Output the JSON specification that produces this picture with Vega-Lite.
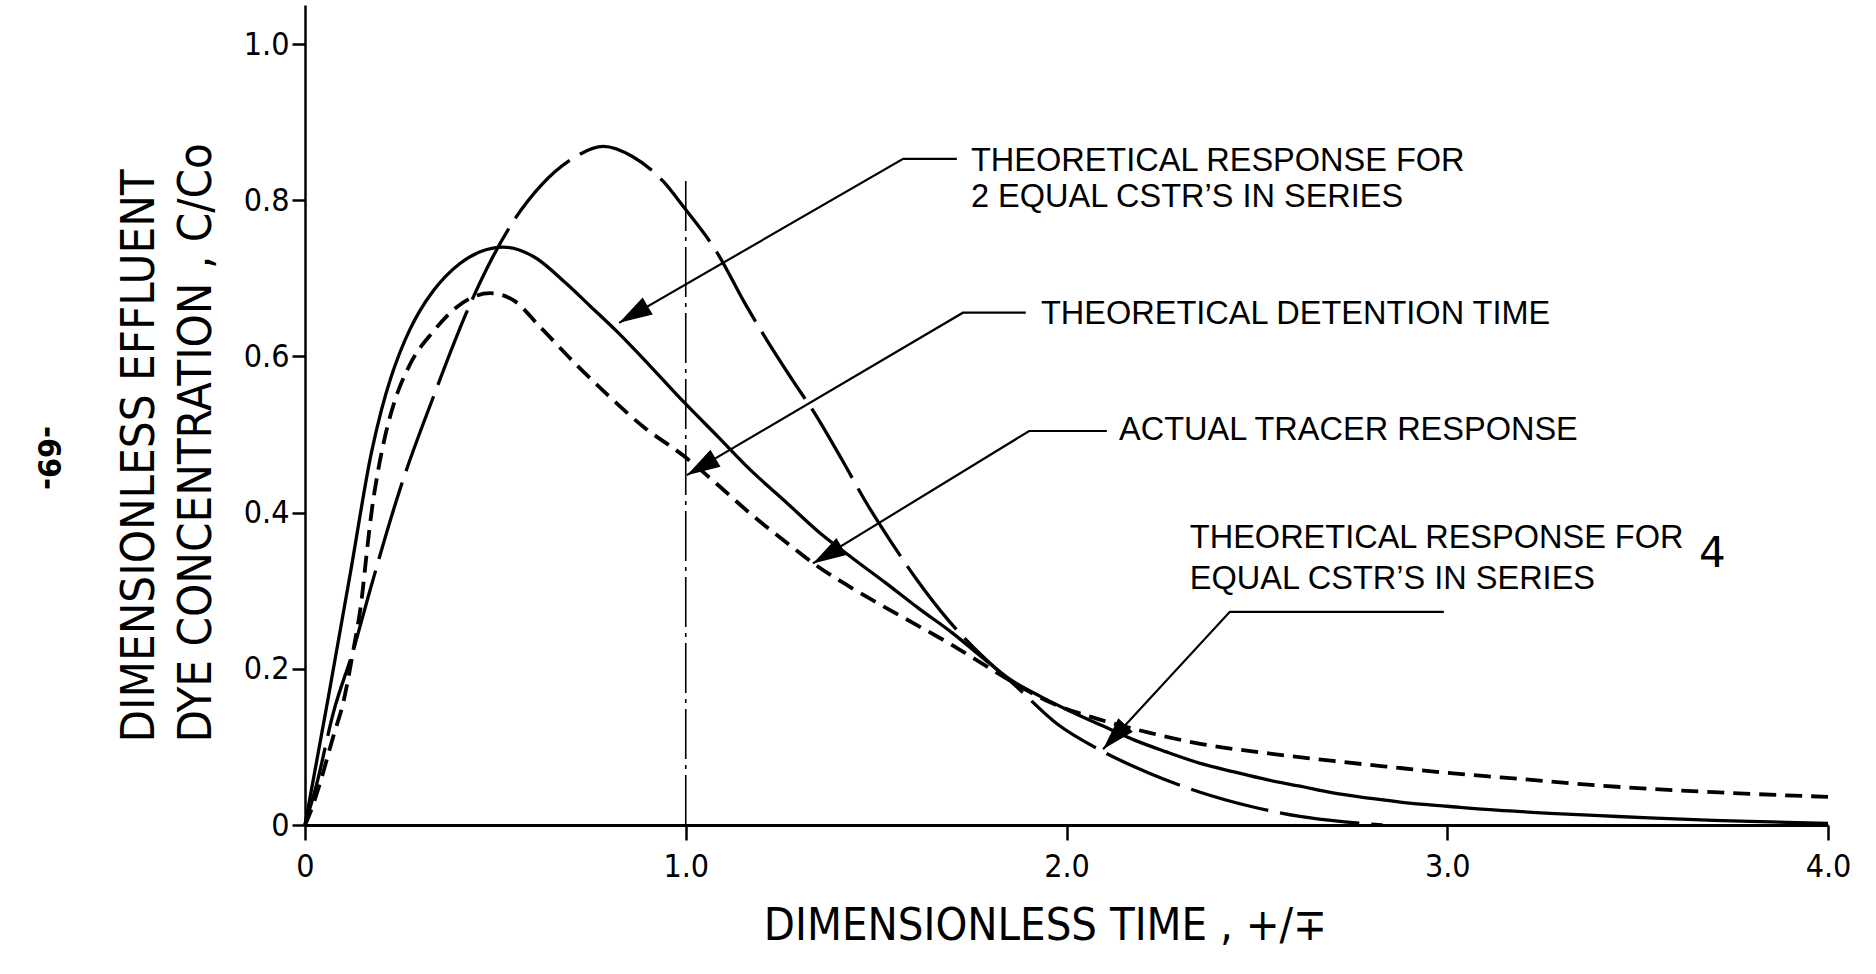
{
  "$schema": "https://vega.github.io/schema/vega-lite/v6.json",
  "width": 1523,
  "height": 820,
  "autosize": {"type": "none"},
  "padding": {"left": 305, "top": 5, "right": 48, "bottom": 149},
  "background": "white",
  "config": {
    "view": {"stroke": null},
    "font": "DejaVu Sans Condensed, DejaVu Sans, sans-serif"
  },
  "datasets": {
    "cstr2": [
      {"t":0,"c":0},{"t":0.06,"c":0.16},{"t":0.12,"c":0.325},{"t":0.175,"c":0.478},{"t":0.2,"c":0.53},
      {"t":0.225,"c":0.572},{"t":0.25,"c":0.606},{"t":0.275,"c":0.634},{"t":0.3,"c":0.657},{"t":0.337,"c":0.684},
      {"t":0.407,"c":0.719},{"t":0.46,"c":0.734},{"t":0.521,"c":0.74},{"t":0.6,"c":0.728},{"t":0.687,"c":0.693},
      {"t":0.75,"c":0.664},{"t":0.819,"c":0.632},{"t":0.906,"c":0.588},{"t":0.994,"c":0.542},{"t":1.085,"c":0.497},
      {"t":1.169,"c":0.455},{"t":1.26,"c":0.415},{"t":1.35,"c":0.375},{"t":1.44,"c":0.341},{"t":1.525,"c":0.31},
      {"t":1.61,"c":0.278},{"t":1.7,"c":0.246},{"t":1.78,"c":0.214},{"t":1.85,"c":0.187},{"t":1.93,"c":0.165},
      {"t":2.0,"c":0.148},{"t":2.09,"c":0.128},{"t":2.177,"c":0.109},{"t":2.26,"c":0.094},{"t":2.351,"c":0.079},
      {"t":2.44,"c":0.068},{"t":2.526,"c":0.058},{"t":2.61,"c":0.05},{"t":2.7,"c":0.041},{"t":2.8,"c":0.034},
      {"t":2.9,"c":0.028},{"t":3.0,"c":0.024},{"t":3.13,"c":0.019},{"t":3.27,"c":0.015},{"t":3.4,"c":0.012},
      {"t":3.53,"c":0.009},{"t":3.7,"c":0.006},{"t":3.85,"c":0.004},{"t":4.0,"c":0.002}
    ],
    "cstr4": [
      {"t":0,"c":0},{"t":0.031,"c":0.053},{"t":0.074,"c":0.143},{"t":0.127,"c":0.224},{"t":0.171,"c":0.301},
      {"t":0.2495,"c":0.43},{"t":0.337,"c":0.548},{"t":0.442,"c":0.676},{"t":0.538,"c":0.766},{"t":0.62,"c":0.819},
      {"t":0.705,"c":0.854},{"t":0.7835,"c":0.869},{"t":0.86,"c":0.856},{"t":0.941,"c":0.824},{"t":0.9935,"c":0.792},
      {"t":1.081,"c":0.734},{"t":1.16,"c":0.664},{"t":1.213,"c":0.621},{"t":1.28,"c":0.57},{"t":1.344,"c":0.523},
      {"t":1.41,"c":0.468},{"t":1.475,"c":0.412},{"t":1.54,"c":0.362},{"t":1.607,"c":0.314},{"t":1.69,"c":0.262},
      {"t":1.781,"c":0.2155},{"t":1.869,"c":0.177},{"t":1.974,"c":0.13},{"t":2.088,"c":0.096},{"t":2.219,"c":0.066},
      {"t":2.351,"c":0.042},{"t":2.482,"c":0.024},{"t":2.613,"c":0.011},{"t":2.73,"c":0.004},{"t":2.83,"c":0.0}
    ],
    "tracer": [
      {"t":0,"c":0},{"t":0.013,"c":0.015},{"t":0.039,"c":0.053},{"t":0.074,"c":0.113},{"t":0.101,"c":0.158},
      {"t":0.127,"c":0.224},{"t":0.149,"c":0.29},{"t":0.162,"c":0.348},{"t":0.176,"c":0.405},{"t":0.1925,"c":0.455},
      {"t":0.21,"c":0.497},{"t":0.235,"c":0.542},{"t":0.276,"c":0.59},{"t":0.337,"c":0.632},{"t":0.398,"c":0.663},
      {"t":0.486,"c":0.681},{"t":0.547,"c":0.672},{"t":0.617,"c":0.638},{"t":0.7135,"c":0.589},{"t":0.792,"c":0.552},
      {"t":0.8885,"c":0.51},{"t":0.9935,"c":0.473},{"t":1.081,"c":0.437},{"t":1.169,"c":0.399},{"t":1.256,"c":0.365},
      {"t":1.344,"c":0.332},{"t":1.431,"c":0.305},{"t":1.519,"c":0.28},{"t":1.607,"c":0.256},{"t":1.694,"c":0.232},
      {"t":1.781,"c":0.206},{"t":1.869,"c":0.18},{"t":1.957,"c":0.157},{"t":2.088,"c":0.135},{"t":2.219,"c":0.118},
      {"t":2.351,"c":0.104},{"t":2.526,"c":0.092},{"t":2.7,"c":0.082},{"t":2.876,"c":0.073},{"t":3.016,"c":0.066},
      {"t":3.14,"c":0.061},{"t":3.445,"c":0.049},{"t":3.7,"c":0.042},{"t":4.0,"c":0.036}
    ],
    "detention": [{"t":1.0,"c":0.0},{"t":1.0,"c":0.827}],
    "leaders": [
      {"id":"A","i":0,"t":1.712,"c":0.853},{"id":"A","i":1,"t":1.571,"c":0.853},{"id":"A","i":2,"t":0.825,"c":0.643},
      {"id":"B","i":0,"t":1.893,"c":0.656},{"id":"B","i":1,"t":1.728,"c":0.656},{"id":"B","i":2,"t":1.003,"c":0.448},
      {"id":"C","i":0,"t":2.106,"c":0.5045},{"id":"C","i":1,"t":1.902,"c":0.5045},{"id":"C","i":2,"t":1.334,"c":0.335},
      {"id":"D","i":0,"t":2.991,"c":0.273},{"id":"D","i":1,"t":2.429,"c":0.273},{"id":"D","i":2,"t":2.096,"c":0.097}
    ],
    "tips": [
      {"id":"A","t":0.825,"c":0.643},{"id":"B","t":1.003,"c":0.448},{"id":"C","t":1.334,"c":0.335},{"id":"D","t":2.096,"c":0.097}
    ],
    "labels": [
      {"t":1.749,"c":0.837,"text":"THEORETICAL  RESPONSE  FOR"},
      {"t":1.749,"c":0.791,"text":"2 EQUAL  CSTR’S  IN  SERIES"},
      {"t":1.933,"c":0.641,"text":"THEORETICAL  DETENTION  TIME"},
      {"t":2.138,"c":0.493,"text":"ACTUAL  TRACER  RESPONSE"},
      {"t":2.324,"c":0.355,"text":"THEORETICAL  RESPONSE  FOR"},
      {"t":2.324,"c":0.302,"text":"EQUAL  CSTR’S  IN  SERIES"}
    ],
    "four": [{"t":3.661,"c":0.33,"text":"4"}],
    "page": [{"t":-0.675,"c":0.47,"text":"-69-"}]
  },
  "encoding": {
    "x": {
      "field": "t", "type": "quantitative",
      "scale": {"domain": [0, 4], "nice": false, "zero": false},
      "axis": {
        "values": [0, 1, 2, 3, 4],
        "labelExpr": "datum.value == 0 ? '0' : format(datum.value, '.1f')",
        "title": "DIMENSIONLESS TIME , +/∓",
        "titleFontSize": 45, "titleFontWeight": "normal", "titleColor": "black",
        "titleX": 740, "titleY": 114, "titleBaseline": "alphabetic", "titleAlign": "center",
        "labelFontSize": 32, "labelColor": "black", "labelPadding": 11, "labelFlush": false, "labelOverlap": false,
        "tickSize": 15, "tickWidth": 2.5, "tickColor": "black",
        "domainWidth": 3, "domainColor": "black", "grid": false
      }
    },
    "y": {
      "field": "c", "type": "quantitative",
      "scale": {"domain": [0, 1.05], "nice": false},
      "axis": {
        "values": [0, 0.2, 0.4, 0.6, 0.8, 1.0],
        "labelExpr": "datum.value == 0 ? '0' : format(datum.value, '.1f')",
        "title": ["DIMENSIONLESS EFFLUENT", "DYE  CONCENTRATION , C/Co"],
        "titleFontSize": 47, "titleFontWeight": "normal", "titleColor": "black",
        "titleAngle": 270, "titleAlign": "left", "titleBaseline": "alphabetic",
        "titleX": -152, "titleY": 737, "titleLineHeight": 57,
        "labelFontSize": 32, "labelColor": "black", "labelPadding": 3, "labelFlush": false, "labelOverlap": false,
        "tickSize": 13, "tickWidth": 2.5, "tickColor": "black",
        "domainWidth": 2.5, "domainColor": "black", "grid": false
      }
    }
  },
  "layer": [
    {
      "data": {"name": "detention"},
      "mark": {"type": "line", "color": "black", "strokeWidth": 1.6, "strokeDash": [50, 6, 4, 6]}
    },
    {
      "data": {"name": "cstr2"},
      "mark": {"type": "line", "color": "black", "strokeWidth": 3.3, "interpolate": "monotone"}
    },
    {
      "data": {"name": "cstr4"},
      "mark": {"type": "line", "color": "black", "strokeWidth": 3.3, "interpolate": "monotone", "strokeDash": [80, 12]}
    },
    {
      "data": {"name": "tracer"},
      "mark": {"type": "line", "color": "black", "strokeWidth": 3.8, "interpolate": "monotone", "strokeDash": [17, 9]}
    },
    {
      "data": {"name": "leaders"},
      "mark": {"type": "line", "color": "black", "strokeWidth": 2.2},
      "encoding": {"detail": {"field": "id"}, "order": {"field": "i", "type": "quantitative"}}
    },
    {
      "data": {"name": "tips"},
      "transform": [{"filter": "datum.id != 'D'"}],
      "mark": {"type": "point", "shape": "M0,0 L-1,-0.3 L-1,0.3 Z", "filled": true, "color": "black", "opacity": 1, "size": 4400, "angle": 149.5}
    },
    {
      "data": {"name": "tips"},
      "transform": [{"filter": "datum.id == 'D'"}],
      "mark": {"type": "point", "shape": "M0,0 L-1,-0.3 L-1,0.3 Z", "filled": true, "color": "black", "opacity": 1, "size": 4400, "angle": 132.8}
    },
    {
      "data": {"name": "labels"},
      "mark": {"type": "text", "align": "left", "baseline": "alphabetic", "fontSize": 32.5, "font": "Liberation Sans, Arial, sans-serif", "color": "black"},
      "encoding": {"text": {"field": "text"}}
    },
    {
      "data": {"name": "four"},
      "mark": {"type": "text", "align": "left", "baseline": "alphabetic", "fontSize": 42, "font": "DejaVu Sans", "color": "black"},
      "encoding": {"text": {"field": "text"}}
    },
    {
      "data": {"name": "page"},
      "mark": {"type": "text", "align": "center", "baseline": "middle", "fontSize": 32, "fontWeight": "bold", "angle": 90, "color": "black"},
      "encoding": {"text": {"field": "text"}}
    }
  ]
}
